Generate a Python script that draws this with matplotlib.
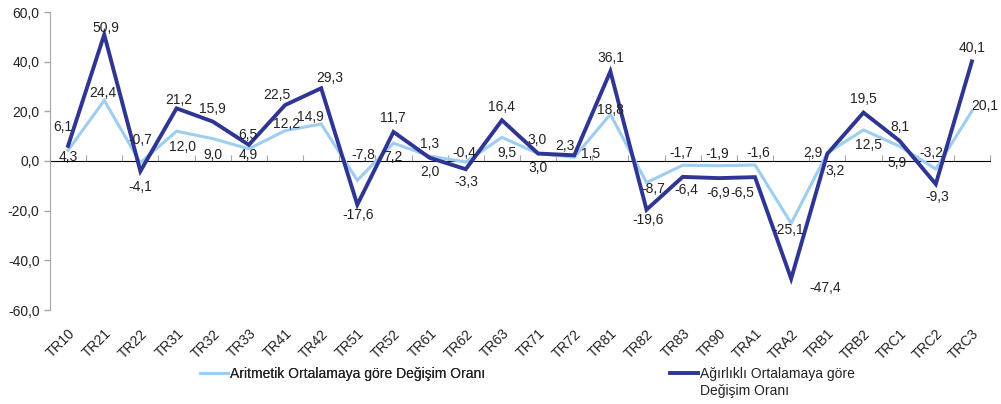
import numpy as np
import matplotlib
matplotlib.use("Agg")
import matplotlib.pyplot as plt
from matplotlib.ticker import FuncFormatter

plt.rcParams["font.family"] = ["Liberation Sans", "DejaVu Sans"]

regions = ["TR10", "TR21", "TR22", "TR31", "TR32", "TR33", "TR41", "TR42", "TR51",
           "TR52", "TR61", "TR62", "TR63", "TR71", "TR72", "TR81", "TR82", "TR83",
           "TR90", "TRA1", "TRA2", "TRB1", "TRB2", "TRC1", "TRC2", "TRC3"]

arithmetic = [4.3, 24.4, -0.7, 12.0, 9.0, 4.9, 12.2, 14.9, -7.8, 7.2, 2.0, -0.4, 9.5,
              3.0, 1.5, 18.8, -8.7, -1.7, -1.9, -1.6, -25.1, 3.2, 12.5, 5.9, -3.2, 20.1]
weighted = [6.1, 50.9, -4.1, 21.2, 15.9, 6.5, 22.5, 29.3, -17.6, 11.7, 1.3, -3.3, 16.4,
            3.0, 2.3, 36.1, -19.6, -6.4, -6.9, -6.5, -47.4, 2.9, 19.5, 8.1, -9.3, 40.1]

label_arith = "Aritmetik Ortalamaya göre Değişim Oranı"
label_weight = ["Ağırlıklı Ortalamaya göre", "Değişim Oranı"]

# where each value label sits relative to its point (pixels, + is up)
off_arith = [(0, -7), (-1, 7), (0, 23), (6, -16), (0, -16), (-1, -6), (2, 7), (-11, 7),
             (6, 25), (-1, -14), (0, -16), (-1, 9), (5, -16), (0, -14), (16, 3), (0, 4),
             (7, -6), (-1, 12), (-2, 12), (3, 12), (-3, -7), (8, -18), (5, -15),
             (-3, -17), (-4, 16), (13, 5)]
off_weight = [(-5, 19), (2, 7), (0, -16), (2, 8), (0, 13), (-1, 10), (-8, 10), (9, 10),
              (1, -10), (-1, 14), (0, 14), (1, -13), (0, 13), (-1, 14), (-9, 9), (0, 13),
              (2, -10), (4, -13), (-1, -15), (-13, -16), (34, -9), (-14, 1), (0, 14),
              (0, 14), (1, -13), (0, 13)]

DARK = "#2E3592"
LIGHT = "#9DCDF0"
TEXT = "#222222"
AXIS = "#A6A6A6"
FS = 10

comma = lambda v: f"{v:.1f}".replace(".", ",")

fig = plt.figure(figsize=(10.01, 4.04), dpi=100)
ax = fig.add_axes([50 / 1001, 94 / 404, 940 / 1001, 298 / 404])

x = np.arange(len(regions))
ax.plot(x, arithmetic, color=LIGHT, lw=2.2, solid_joinstyle="miter")
ax.plot(x, weighted, color=DARK, lw=2.8, solid_joinstyle="miter")

for xi, v, (dx, dy) in zip(x, arithmetic, off_arith):
    ax.annotate(comma(v), (xi, v), xytext=(dx, dy), textcoords="offset pixels",
                ha="center", va="center", fontsize=FS, color=TEXT)
for xi, v, (dx, dy) in zip(x, weighted, off_weight):
    ax.annotate(comma(v), (xi, v), xytext=(dx, dy), textcoords="offset pixels",
                ha="center", va="center", fontsize=FS, color=TEXT)

ax.set_xlim(-0.5, len(regions) - 0.5)
ax.set_ylim(-60, 60)
ax.set_yticks(np.arange(-60, 61, 20))
ax.yaxis.set_major_formatter(FuncFormatter(lambda v, p: comma(v)))
ax.tick_params(axis="y", colors=AXIS, labelcolor=TEXT, labelsize=FS, length=4, width=1)

ax.set_xticks(x)
ax.set_xticklabels(regions, rotation=45, ha="right", rotation_mode="anchor",
                   fontsize=FS, color=TEXT)
ax.tick_params(axis="x", length=0, pad=12)

for side in ["top", "right", "bottom"]:
    ax.spines[side].set_visible(False)
ax.spines["left"].set_color(AXIS)

# zero line with small ticks between the regions
zero = ax.secondary_xaxis(0.5)
zero.set_xticks(np.arange(-0.5, len(regions), 1.0))
zero.set_xticklabels([])
zero.tick_params(length=4, color=AXIS, direction="out")
zero.spines["bottom"].set_color(AXIS)

h1, = ax.plot([], [], color=LIGHT, lw=2.2)
h2, = ax.plot([], [], color=DARK, lw=2.8)
leg1 = fig.legend([h1], [label_arith], loc="upper left", bbox_to_anchor=(200 / 1001, 1 - 367 / 404),
                  frameon=False, fontsize=FS, handlelength=2.0, handletextpad=0.15,
                  borderaxespad=0, borderpad=0, labelcolor=TEXT)
leg2 = fig.legend([h2], [label_weight[0]], loc="upper left", bbox_to_anchor=(670 / 1001, 1 - 367 / 404),
                  frameon=False, fontsize=FS, handlelength=2.0, handletextpad=0.15,
                  borderaxespad=0, borderpad=0, labelcolor=TEXT)
fig.add_artist(leg1)

fig.canvas.draw()
bb = leg2.get_texts()[0].get_window_extent()
fig.text(bb.x0 / fig.dpi / 10.01, (bb.y0 - 3) / fig.dpi / 4.04, label_weight[1],
         ha="left", va="top", fontsize=FS, color=TEXT)

fig.savefig("out.png", dpi=100)
